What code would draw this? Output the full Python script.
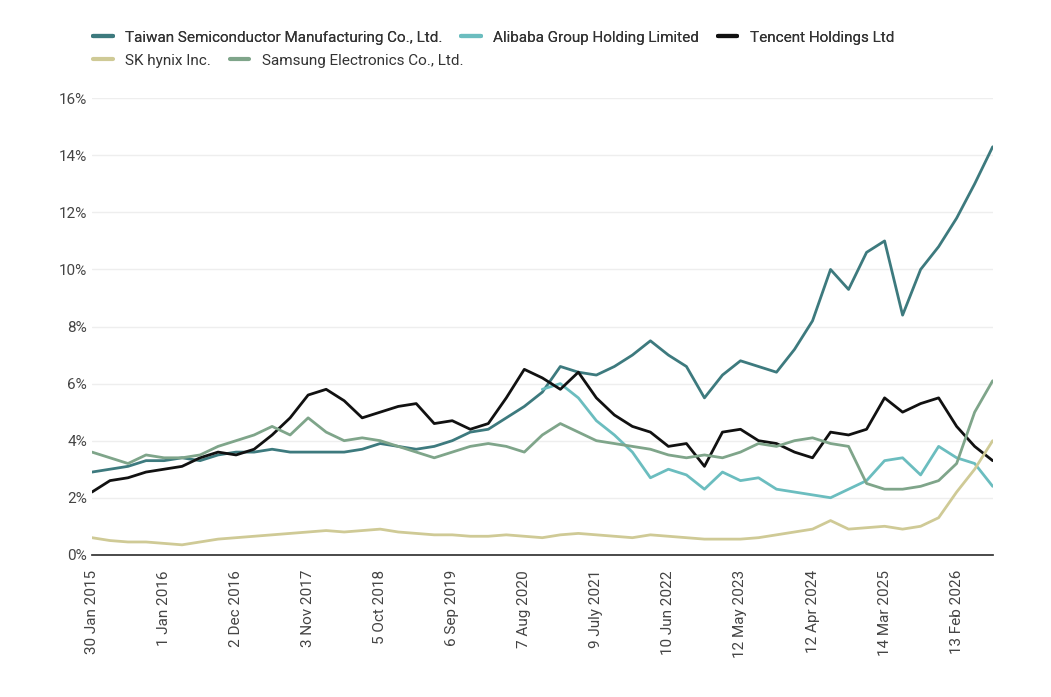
import numpy as np, pandas as pd, matplotlib
matplotlib.use("Agg")
import matplotlib.pyplot as plt, seaborn as sns

tsmc = [2.9,3.0,3.1,3.3,3.3,3.4,3.3,3.5,3.6,3.6,3.7,3.6,3.6,3.6,3.6,3.7,3.9,3.8,3.7,3.8,4.0,4.3,4.4,4.8,5.2,5.7,6.6,6.4,6.3,6.6,7.0,7.5,7.0,6.6,5.5,6.3,6.8,6.6,6.4,7.2,8.2,10.0,9.3,10.6,11.0,8.4,10.0,10.8,11.8,13.0,14.3]
alibaba = [np.nan]*25 + [5.8,6.0,5.5,4.7,4.2,3.6,2.7,3.0,2.8,2.3,2.9,2.6,2.7,2.3,2.2,2.1,2.0,2.3,2.6,3.3,3.4,2.8,3.8,3.4,3.2,2.4]
tencent = [2.2,2.6,2.7,2.9,3.0,3.1,3.4,3.6,3.5,3.7,4.2,4.8,5.6,5.8,5.4,4.8,5.0,5.2,5.3,4.6,4.7,4.4,4.6,5.5,6.5,6.2,5.8,6.4,5.5,4.9,4.5,4.3,3.8,3.9,3.1,4.3,4.4,4.0,3.9,3.6,3.4,4.3,4.2,4.4,5.5,5.0,5.3,5.5,4.5,3.8,3.3]
skhynix = [0.6,0.5,0.45,0.45,0.4,0.35,0.45,0.55,0.6,0.65,0.7,0.75,0.8,0.85,0.8,0.85,0.9,0.8,0.75,0.7,0.7,0.65,0.65,0.7,0.65,0.6,0.7,0.75,0.7,0.65,0.6,0.7,0.65,0.6,0.55,0.55,0.55,0.6,0.7,0.8,0.9,1.2,0.9,0.95,1.0,0.9,1.0,1.3,2.2,3.0,4.0]
samsung = [3.6,3.4,3.2,3.5,3.4,3.4,3.5,3.8,4.0,4.2,4.5,4.2,4.8,4.3,4.0,4.1,4.0,3.8,3.6,3.4,3.6,3.8,3.9,3.8,3.6,4.2,4.6,4.3,4.0,3.9,3.8,3.7,3.5,3.4,3.5,3.4,3.6,3.9,3.8,4.0,4.1,3.9,3.8,2.5,2.3,2.3,2.4,2.6,3.2,5.0,6.1]
tick_labels = ["30 Jan 2015","1 Jan 2016","2 Dec 2016","3 Nov 2017","5 Oct 2018","6 Sep 2019","7 Aug 2020","9 July 2021","10 Jun 2022","12 May 2023","12 Apr 2024","14 Mar 2025","13 Feb 2026"]

names = ["Taiwan Semiconductor Manufacturing Co., Ltd.","Alibaba Group Holding Limited","Tencent Holdings Ltd","SK hynix Inc.","Samsung Electronics Co., Ltd."]
colors = ["#3d7a7e","#6bbdbf","#111111","#cfca96","#7fa58a"]
weeks = np.arange(len(tsmc))*12
rows = []
for n, s in zip(names, [tsmc, alibaba, tencent, skhynix, samsung]):
    for w, v in zip(weeks, s):
        rows.append((n, w, v))
df = pd.DataFrame(rows, columns=["series","week","value"])

sns.set_theme(style="white")
plt.rcParams['font.family'] = ['Roboto','DejaVu Sans']
fig = plt.figure(figsize=(10.51,6.97), dpi=100)
ax = fig.add_axes([0.0875,0.204,0.857,0.655])
sns.lineplot(data=df, x="week", y="value", hue="series", hue_order=names, palette=colors, linewidth=2, ax=ax, legend=False)
ax.set_xlim(0,600); ax.set_ylim(0,16)
ax.set_yticks(range(0,17,2)); ax.set_yticklabels([f"{v}%" for v in range(0,17,2)], color="#444", fontsize=11)
ax.set_xticks(np.arange(len(tick_labels))*48)
ax.set_xticklabels(tick_labels, rotation=90, color="#444", fontsize=11)
ax.yaxis.grid(True, color="#eeeeee", lw=1)
for s in ["top","right","left"]: ax.spines[s].set_visible(False)
ax.spines["bottom"].set_color("#333")
ax.tick_params(axis="x", length=5, color="#333", pad=6)
ax.tick_params(axis="y", length=0)
ax.set_xlabel(""); ax.set_ylabel("")
from matplotlib.lines import Line2D
h = [Line2D([],[],color=c,lw=3) for c in colors]
kw = dict(loc="upper left", frameon=False, fontsize=11, handlelength=1.3, columnspacing=1.2, labelcolor="#333", borderaxespad=0)
l1 = fig.legend(h[:3], names[:3], ncol=3, bbox_to_anchor=(0.083,0.965), **kw)
fig.add_artist(l1)
fig.legend(h[3:], names[3:], ncol=2, bbox_to_anchor=(0.083,0.932), **kw)
fig.savefig("out.png", dpi=100)
